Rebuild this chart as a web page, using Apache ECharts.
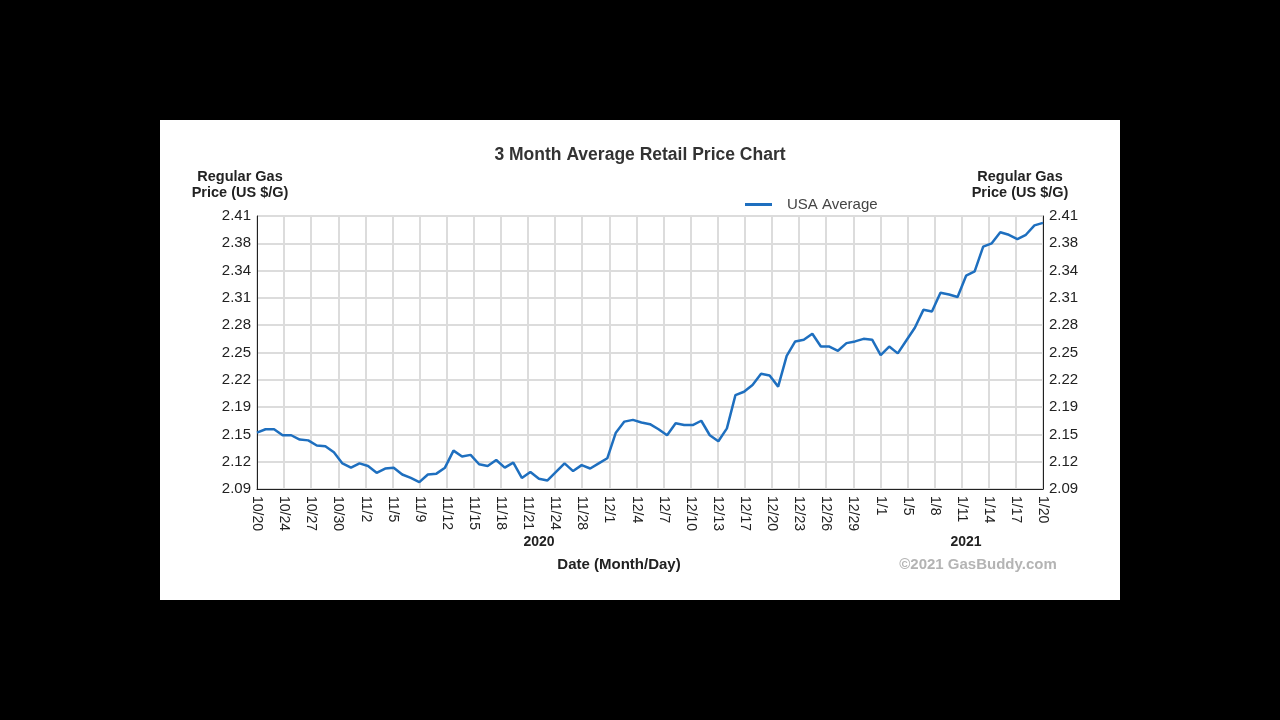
<!DOCTYPE html>
<html>
<head>
<meta charset="utf-8">
<script src="https://cdn.jsdelivr.net/npm/echarts@6/dist/echarts.min.js"></script>
<style>
html,body{margin:0;padding:0;background:#000;width:1280px;height:720px;overflow:hidden;}
#chart{position:absolute;left:160px;top:120px;width:960px;height:480px;background:#fff;}
</style>
</head>
<body>
<div id="chart"></div>
<script>
// Daily USA average regular gas price, 10/20/2020 .. 1/20/2021 (US $/gal)
const prices = [
  2.156, 2.160, 2.160, 2.153, 2.153, 2.148, 2.147, 2.141, 2.140, 2.133,
  2.120, 2.115, 2.120, 2.117, 2.109, 2.114, 2.115, 2.107, 2.103, 2.098,
  2.107, 2.108, 2.115, 2.135, 2.128, 2.130, 2.119, 2.117, 2.124, 2.115,
  2.121, 2.103, 2.110, 2.102, 2.100, 2.110, 2.120, 2.111, 2.118, 2.114,
  2.120, 2.126, 2.156, 2.169, 2.171, 2.168, 2.166, 2.160, 2.153, 2.167,
  2.165, 2.165, 2.170, 2.153, 2.146, 2.161, 2.200, 2.204, 2.212, 2.225,
  2.223, 2.210, 2.246, 2.263, 2.265, 2.272, 2.257, 2.257, 2.252, 2.261,
  2.263, 2.266, 2.265, 2.247, 2.257, 2.249, 2.264, 2.279, 2.300, 2.298,
  2.320, 2.318, 2.315, 2.340, 2.345, 2.374, 2.378, 2.391, 2.388, 2.383,
  2.388, 2.399, 2.402
];
const xTickLabels = ['10/20','10/24','10/27','10/30','11/2','11/5','11/9','11/12','11/15','11/18',
  '11/21','11/24','11/28','12/1','12/4','12/7','12/10','12/13','12/17','12/20',
  '12/23','12/26','12/29','1/1','1/5','1/8','1/11','1/14','1/17','1/20'];
const yTickLabels = ['2.09','2.12','2.15','2.19','2.22','2.25','2.28','2.31','2.34','2.38','2.41'];
const yearLabels = ['2020','2021'];
const seriesName = 'USA Average';

const FONT = 'Liberation Sans, Arial, sans-serif';
const yMin = 2.09, yMax = 2.41, yStep = (yMax - yMin) / (yTickLabels.length - 1);
const xMax = prices.length - 1, xStep = xMax / (xTickLabels.length - 1);

const chart = echarts.init(document.getElementById('chart'));
const yLabelFmt = v => yTickLabels[Math.round((v - yMin) / yStep)] || '';
const yAxisCommon = {
  type: 'value', min: yMin, max: yMax, interval: yStep,
  axisLine: {show: true, lineStyle: {color: '#222', width: 1}},
  axisTick: {show: false},
  splitLine: {show: true, lineStyle: {color: '#dcdcdc', width: 2}},
  axisLabel: {color: '#222', fontFamily: FONT, fontSize: 15, margin: 6, formatter: yLabelFmt}
};
chart.setOption({
  animation: false,
  title: {
    text: '3 Month Average Retail Price Chart', left: 'center', top: 21,
    textStyle: {fontFamily: FONT, fontSize: 17.5, fontWeight: 'bold', color: '#333'}
  },
  legend: {
    data: [seriesName], left: 580, top: 72, icon: 'rect', itemWidth: 27, itemHeight: 3,
    textStyle: {fontFamily: FONT, fontSize: 15, color: '#444', padding: [0, 0, 0, 10]}
  },
  grid: {left: 97, right: 77, top: 96, bottom: 111, show: true, borderColor: '#222', borderWidth: 1},
  xAxis: {
    type: 'value', min: 0, max: xMax, interval: xStep,
    axisLine: {show: true, lineStyle: {color: '#222'}},
    axisTick: {show: false},
    splitLine: {show: true, lineStyle: {color: '#dcdcdc', width: 2}},
    axisLabel: {
      rotate: -90, margin: 7, color: '#222', fontFamily: FONT, fontSize: 14,
      showMinLabel: true, showMaxLabel: true,
      formatter: v => xTickLabels[Math.round(v / xStep)] || ''
    }
  },
  yAxis: [
    Object.assign({position: 'left'}, yAxisCommon),
    Object.assign({position: 'right'}, yAxisCommon, {splitLine: {show: false}})
  ],
  series: [{
    name: seriesName, type: 'line', yAxisIndex: 0, showSymbol: false, symbol: 'none',
    lineStyle: {color: '#1e6fbf', width: 2.5}, itemStyle: {color: '#1e6fbf'},
    data: prices.map((p, i) => [i, p])
  }],
  graphic: [
    {type: 'text', x: 80, y: 49, style: {text: 'Regular Gas\nPrice (US $/G)', align: 'center', verticalAlign: 'top', font: 'bold 14.5px ' + FONT, fill: '#222', lineHeight: 16}},
    {type: 'text', x: 860, y: 49, style: {text: 'Regular Gas\nPrice (US $/G)', align: 'center', verticalAlign: 'top', font: 'bold 14.5px ' + FONT, fill: '#222', lineHeight: 16}},
    {type: 'text', x: 379, y: 422, style: {text: yearLabels[0], align: 'center', verticalAlign: 'middle', font: 'bold 14px ' + FONT, fill: '#222'}},
    {type: 'text', x: 806, y: 422, style: {text: yearLabels[1], align: 'center', verticalAlign: 'middle', font: 'bold 14px ' + FONT, fill: '#222'}},
    {type: 'text', x: 459, y: 445, style: {text: 'Date (Month/Day)', align: 'center', verticalAlign: 'middle', font: 'bold 15px ' + FONT, fill: '#222'}},
    {type: 'text', x: 818, y: 445, style: {text: '\u00a92021 GasBuddy.com', align: 'center', verticalAlign: 'middle', font: 'bold 15px ' + FONT, fill: '#b4b4b4'}}
  ]
});
</script>
</body>
</html>
